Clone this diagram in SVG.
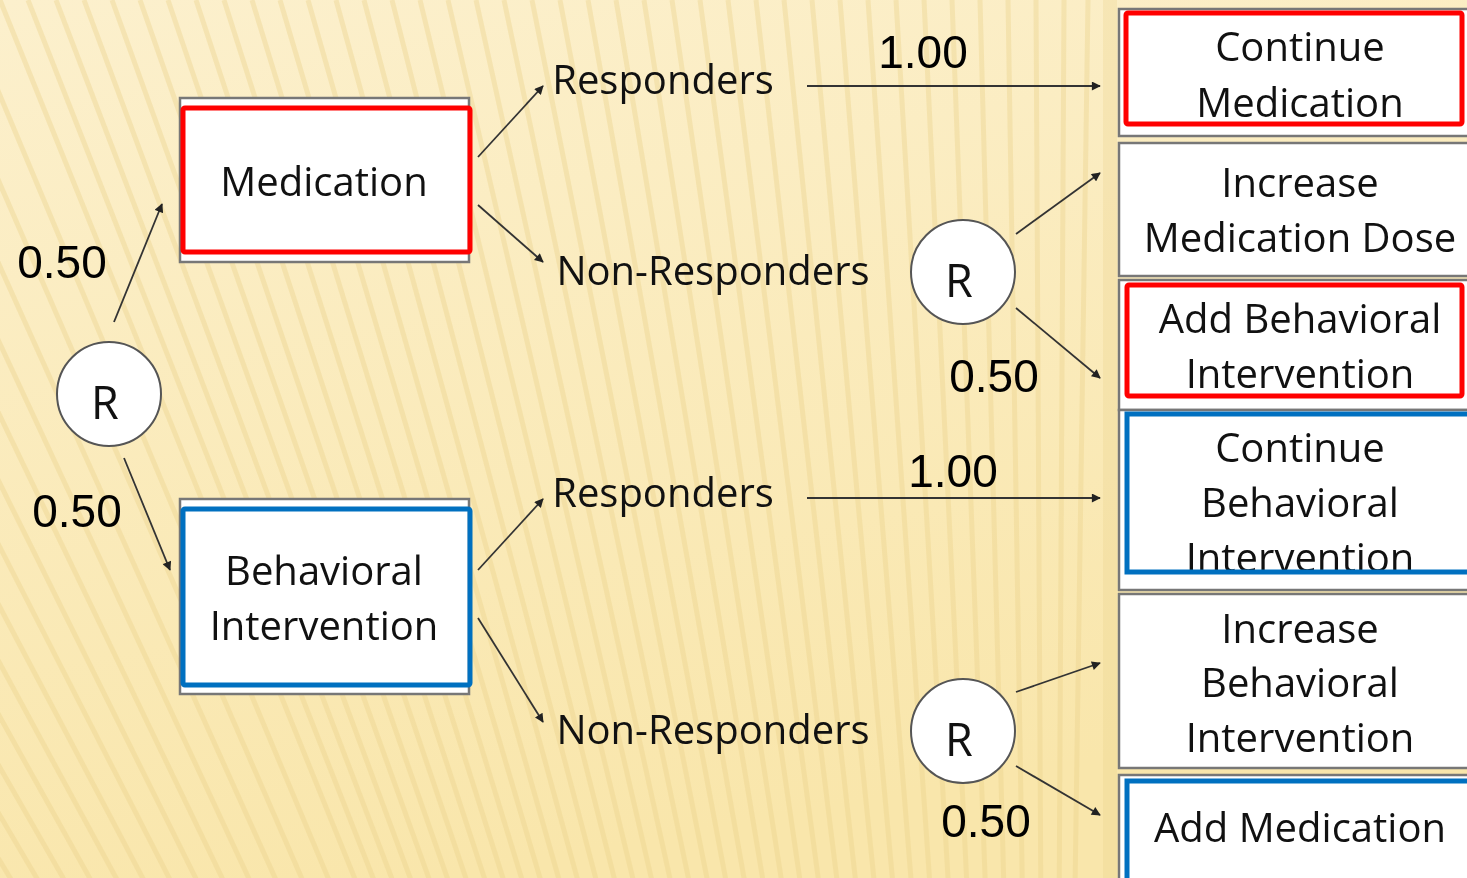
<svg xmlns="http://www.w3.org/2000/svg" width="1467" height="878" viewBox="0 0 1467 878">
  <defs>
    <linearGradient id="bg" x1="0" y1="0" x2="0.3" y2="1">
      <stop offset="0" stop-color="#fcf0cd"/>
      <stop offset="1" stop-color="#f9e6ab"/>
    </linearGradient>
    <marker id="arr" viewBox="0 0 10 10" refX="9" refY="5" markerWidth="10" markerHeight="9" orient="auto" markerUnits="userSpaceOnUse">
      <path d="M0,0 L10,5 L0,10 Z" fill="#222"/>
    </marker>
    <style>
      .lbl { font-family: "Open Sans", "Noto Sans", sans-serif; font-size: 40px; fill: #111; text-anchor: middle; }
      .num { font-family: "Liberation Sans", Arial, sans-serif; font-size: 46px; fill: #000; text-anchor: middle; }
      .box { fill: #fff; stroke: #777; stroke-width: 2.5; }
      .red { fill: none; stroke: #ff0000; stroke-width: 5; }
      .blue { fill: none; stroke: #0070c0; stroke-width: 5; }
      .circ { fill: #fff; stroke: #555; stroke-width: 2; }
      .con { fill: none; stroke: #333; stroke-width: 1.8; marker-end: url(#arr); }
      .stripe { stroke: #ecd38c; stroke-width: 5; opacity: 0.4; }
    </style>
  </defs>

  <g id="background">
    <rect x="0" y="0" width="1467" height="878" fill="url(#bg)"/>
    <g class="stripe">
      <line x1="-600" y1="0" x2="1050" y2="2600"/>
      <line x1="-560" y1="0" x2="1050" y2="2600"/>
      <line x1="-520" y1="0" x2="1050" y2="2600"/>
      <line x1="-480" y1="0" x2="1050" y2="2600"/>
      <line x1="-440" y1="0" x2="1050" y2="2600"/>
      <line x1="-400" y1="0" x2="1050" y2="2600"/>
      <line x1="-360" y1="0" x2="1050" y2="2600"/>
      <line x1="-320" y1="0" x2="1050" y2="2600"/>
      <line x1="-280" y1="0" x2="1050" y2="2600"/>
      <line x1="-240" y1="0" x2="1050" y2="2600"/>
      <line x1="-200" y1="0" x2="1050" y2="2600"/>
      <line x1="-160" y1="0" x2="1050" y2="2600"/>
      <line x1="-120" y1="0" x2="1050" y2="2600"/>
      <line x1="-80" y1="0" x2="1050" y2="2600"/>
      <line x1="-40" y1="0" x2="1050" y2="2600"/>
      <line x1="0" y1="0" x2="1050" y2="2600"/>
      <line x1="28" y1="0" x2="1050" y2="2600"/>
      <line x1="56" y1="0" x2="1050" y2="2600"/>
      <line x1="84" y1="0" x2="1050" y2="2600"/>
      <line x1="112" y1="0" x2="1050" y2="2600"/>
      <line x1="140" y1="0" x2="1050" y2="2600"/>
      <line x1="168" y1="0" x2="1050" y2="2600"/>
      <line x1="196" y1="0" x2="1050" y2="2600"/>
      <line x1="224" y1="0" x2="1050" y2="2600"/>
      <line x1="252" y1="0" x2="1050" y2="2600"/>
      <line x1="280" y1="0" x2="1050" y2="2600"/>
      <line x1="308" y1="0" x2="1050" y2="2600"/>
      <line x1="336" y1="0" x2="1050" y2="2600"/>
      <line x1="364" y1="0" x2="1050" y2="2600"/>
      <line x1="392" y1="0" x2="1050" y2="2600"/>
      <line x1="420" y1="0" x2="1050" y2="2600"/>
      <line x1="448" y1="0" x2="1050" y2="2600"/>
      <line x1="476" y1="0" x2="1050" y2="2600"/>
      <line x1="504" y1="0" x2="1050" y2="2600"/>
      <line x1="532" y1="0" x2="1050" y2="2600"/>
      <line x1="560" y1="0" x2="1050" y2="2600"/>
      <line x1="588" y1="0" x2="1050" y2="2600"/>
      <line x1="616" y1="0" x2="1050" y2="2600"/>
      <line x1="644" y1="0" x2="1050" y2="2600"/>
      <line x1="672" y1="0" x2="1050" y2="2600"/>
      <line x1="700" y1="0" x2="1050" y2="2600"/>
      <line x1="728" y1="0" x2="1050" y2="2600"/>
      <line x1="756" y1="0" x2="1050" y2="2600"/>
      <line x1="784" y1="0" x2="1050" y2="2600"/>
      <line x1="812" y1="0" x2="1050" y2="2600"/>
      <line x1="840" y1="0" x2="1050" y2="2600"/>
      <line x1="868" y1="0" x2="1050" y2="2600"/>
      <line x1="896" y1="0" x2="1050" y2="2600"/>
      <line x1="924" y1="0" x2="1050" y2="2600"/>
      <line x1="952" y1="0" x2="1050" y2="2600"/>
      <line x1="980" y1="0" x2="1050" y2="2600"/>
      <line x1="1008" y1="0" x2="1050" y2="2600"/>
      <line x1="1036" y1="0" x2="1050" y2="2600"/>
      <line x1="1064" y1="0" x2="1050" y2="2600"/>
      <line x1="1088" y1="0" x2="1050" y2="2600"/>
      <line x1="1110" y1="0" x2="1110" y2="878" style="stroke-width:14;opacity:0.7"/>
    </g>
  </g>

  <g id="connectors">
    <line class="con" x1="114" y1="322" x2="162" y2="204"/>
    <line class="con" x1="124" y1="458" x2="170" y2="570"/>
    <line class="con" x1="478" y1="157" x2="543" y2="86"/>
    <line class="con" x1="478" y1="205" x2="543" y2="262"/>
    <line class="con" x1="478" y1="570" x2="543" y2="499"/>
    <line class="con" x1="478" y1="618" x2="543" y2="722"/>
    <line class="con" x1="807" y1="86" x2="1100" y2="86"/>
    <line class="con" x1="807" y1="498" x2="1100" y2="498"/>
    <line class="con" x1="1016" y1="234" x2="1100" y2="173"/>
    <line class="con" x1="1016" y1="308" x2="1100" y2="378"/>
    <line class="con" x1="1016" y1="692" x2="1100" y2="663"/>
    <line class="con" x1="1016" y1="766" x2="1100" y2="815"/>
  </g>

  <g id="node-r1">
    <circle class="circ" cx="109" cy="394" r="52"/>
    <text class="lbl" x="105" y="419" style="font-size:45px">R</text>
  </g>

  <g id="node-medication">
    <rect class="box" x="180" y="98" width="289" height="164"/>
    <rect class="red" x="183" y="108" width="287" height="144" rx="2"/>
    <text class="lbl" x="324" y="196">Medication</text>
  </g>

  <g id="node-behavioral">
    <rect class="box" x="180" y="499" width="289" height="195"/>
    <rect class="blue" x="183" y="509" width="287" height="176" rx="2"/>
    <text class="lbl" x="324" y="585">Behavioral</text>
    <text class="lbl" x="324" y="640">Intervention</text>
  </g>

  <g id="labels-mid">
    <text class="lbl" x="663" y="94">Responders</text>
    <text class="lbl" x="713" y="285">Non-Responders</text>
    <text class="lbl" x="663" y="507">Responders</text>
    <text class="lbl" x="713" y="744">Non-Responders</text>
  </g>

  <g id="probabilities">
    <text class="num" x="62" y="278">0.50</text>
    <text class="num" x="77" y="527">0.50</text>
    <text class="num" x="923" y="68">1.00</text>
    <text class="num" x="953" y="487">1.00</text>
    <text class="num" x="994" y="392">0.50</text>
    <text class="num" x="986" y="837">0.50</text>
  </g>

  <g id="node-r2">
    <circle class="circ" cx="963" cy="272" r="52"/>
    <text class="lbl" x="959" y="297" style="font-size:45px">R</text>
  </g>

  <g id="node-r3">
    <circle class="circ" cx="963" cy="731" r="52"/>
    <text class="lbl" x="959" y="756" style="font-size:45px">R</text>
  </g>

  <g id="node-continue-med">
    <rect class="box" x="1119" y="9" width="360" height="127"/>
    <rect class="red" x="1126" y="13" width="336" height="111" rx="2"/>
    <text class="lbl" x="1300" y="61">Continue</text>
    <text class="lbl" x="1300" y="117">Medication</text>
  </g>

  <g id="node-increase-dose">
    <rect class="box" x="1119" y="143" width="360" height="133"/>
    <text class="lbl" x="1300" y="197">Increase</text>
    <text class="lbl" x="1300" y="252">Medication Dose</text>
  </g>

  <g id="node-add-behavioral">
    <rect class="box" x="1119" y="280" width="360" height="130"/>
    <text class="lbl" x="1300" y="333">Add Behavioral</text>
    <text class="lbl" x="1300" y="388">Intervention</text>
    <rect class="red" x="1127" y="285" width="335" height="111" rx="2"/>
  </g>

  <g id="node-continue-behavioral">
    <rect class="box" x="1119" y="410" width="360" height="180"/>
    <text class="lbl" x="1300" y="462">Continue</text>
    <text class="lbl" x="1300" y="517">Behavioral</text>
    <text class="lbl" x="1300" y="572">Intervention</text>
    <rect class="blue" x="1127" y="414" width="350" height="158"/>
  </g>

  <g id="node-increase-behavioral">
    <rect class="box" x="1119" y="594" width="360" height="174"/>
    <text class="lbl" x="1300" y="643">Increase</text>
    <text class="lbl" x="1300" y="697">Behavioral</text>
    <text class="lbl" x="1300" y="752">Intervention</text>
  </g>

  <g id="node-add-medication">
    <rect class="box" x="1119" y="775" width="360" height="120"/>
    <rect class="blue" x="1127" y="781" width="350" height="110"/>
    <text class="lbl" x="1300" y="842">Add Medication</text>
  </g>
</svg>
